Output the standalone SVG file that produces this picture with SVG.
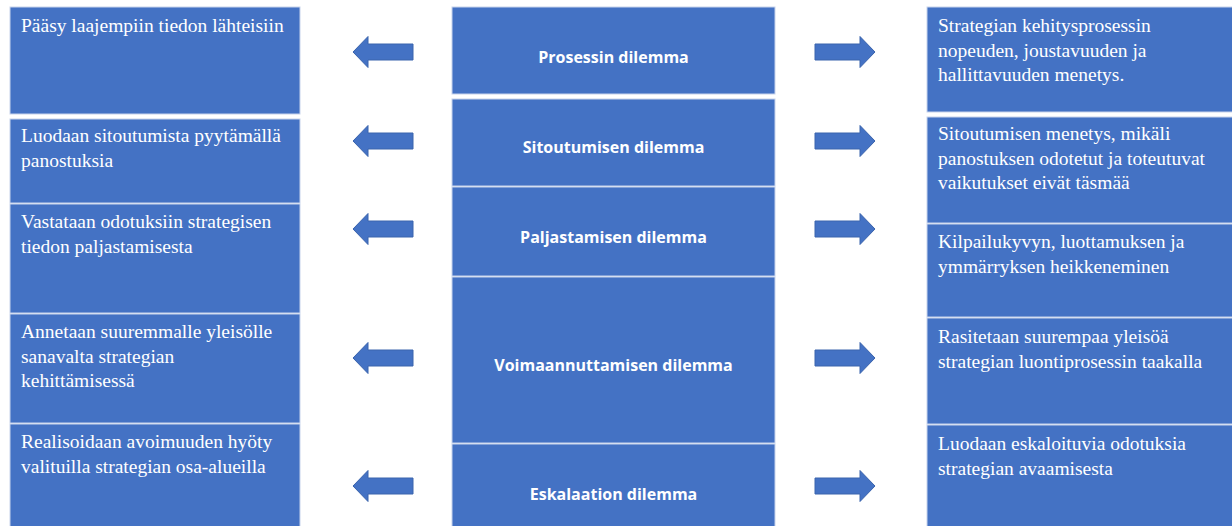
<svg xmlns="http://www.w3.org/2000/svg" width="1232" height="526" viewBox="0 0 1232 526">
<defs>
<style>
.box{fill:#4472C4;stroke:#c7d3ec;stroke-width:1}
.arr{fill:#4472C4;stroke:#3b64ad;stroke-width:1}
.t{font-family:"Liberation Serif","Times New Roman",serif;font-size:19.5px;fill:#ffffff}
.c{font-family:"Open Sans","Noto Sans",sans-serif;font-size:16px;font-weight:bold;fill:#ffffff;text-anchor:middle}
</style>
<path id="la" d="M0,0 L15,-15.5 L15,-8 L60,-8 L60,8 L15,8 L15,15.5 Z"/>
<path id="ra" d="M0,0 L-15,-15.5 L-15,-8 L-60,-8 L-60,8 L-15,8 L-15,15.5 Z"/>
</defs>
<rect width="1232" height="526" fill="#ffffff"/>

<g id="left-1"><rect class="box" x="10" y="7" width="290" height="107"/><text class="t" x="21" y="32">Pääsy laajempiin tiedon lähteisiin</text></g>
<g id="left-2"><rect class="box" x="10" y="119" width="290" height="84"/><text class="t" x="21" y="142">Luodaan sitoutumista pyytämällä<tspan x="21" dy="24.5">panostuksia</tspan></text></g>
<g id="left-3"><rect class="box" x="10" y="204" width="290" height="109"/><text class="t" x="21" y="228">Vastataan odotuksiin strategisen<tspan x="21" dy="24.5">tiedon paljastamisesta</tspan></text></g>
<g id="left-4"><rect class="box" x="10" y="314" width="290" height="109"/><text class="t" x="21" y="338">Annetaan suuremmalle yleisölle<tspan x="21" dy="24.5">sanavalta strategian</tspan><tspan x="21" dy="24.5">kehittämisessä</tspan></text></g>
<g id="left-5"><rect class="box" x="10" y="424" width="290" height="110"/><text class="t" x="21" y="448">Realisoidaan avoimuuden hyöty<tspan x="21" dy="24.5">valituilla strategian osa-alueilla</tspan></text></g>

<g id="center-1"><rect class="box" x="452" y="7" width="323" height="87"/><text class="c" x="613.5" y="63">Prosessin dilemma</text></g>
<g id="center-2"><rect class="box" x="452" y="99" width="323" height="87"/><text class="c" x="613.5" y="153">Sitoutumisen dilemma</text></g>
<g id="center-3"><rect class="box" x="452" y="187" width="323" height="89"/><text class="c" x="613.5" y="243">Paljastamisen dilemma</text></g>
<g id="center-4"><rect class="box" x="452" y="277" width="323" height="166"/><text class="c" x="613.5" y="371">Voimaannuttamisen dilemma</text></g>
<g id="center-5"><rect class="box" x="452" y="444" width="323" height="90"/><text class="c" x="613.5" y="500">Eskalaation dilemma</text></g>

<g id="right-1"><rect class="box" x="927" y="7" width="310" height="105"/><text class="t" x="938" y="32">Strategian kehitysprosessin<tspan x="938" dy="24.5">nopeuden, joustavuuden ja</tspan><tspan x="938" dy="24.5">hallittavuuden menetys.</tspan></text></g>
<g id="right-2"><rect class="box" x="927" y="117" width="310" height="106"/><text class="t" x="938" y="140">Sitoutumisen menetys, mikäli<tspan x="938" dy="24.5">panostuksen odotetut ja toteutuvat</tspan><tspan x="938" dy="24.5">vaikutukset eivät täsmää</tspan></text></g>
<g id="right-3"><rect class="box" x="927" y="224" width="310" height="93"/><text class="t" x="938" y="248">Kilpailukyvyn, luottamuksen ja<tspan x="938" dy="24.5">ymmärryksen heikkeneminen</tspan></text></g>
<g id="right-4"><rect class="box" x="927" y="318" width="310" height="106"/><text class="t" x="938" y="343">Rasitetaan suurempaa yleisöä<tspan x="938" dy="24.5">strategian luontiprosessin taakalla</tspan></text></g>
<g id="right-5"><rect class="box" x="927" y="425" width="310" height="110"/><text class="t" x="938" y="450">Luodaan eskaloituvia odotuksia<tspan x="938" dy="24.5">strategian avaamisesta</tspan></text></g>

<g id="connectors">
<use href="#la" class="arr" x="353" y="52"/>
<use href="#la" class="arr" x="353" y="141"/>
<use href="#la" class="arr" x="353" y="229"/>
<use href="#la" class="arr" x="353" y="358"/>
<use href="#la" class="arr" x="353" y="486"/>
<use href="#ra" class="arr" x="875" y="52"/>
<use href="#ra" class="arr" x="875" y="141"/>
<use href="#ra" class="arr" x="875" y="229"/>
<use href="#ra" class="arr" x="875" y="358"/>
<use href="#ra" class="arr" x="875" y="486"/>
</g>
</svg>
